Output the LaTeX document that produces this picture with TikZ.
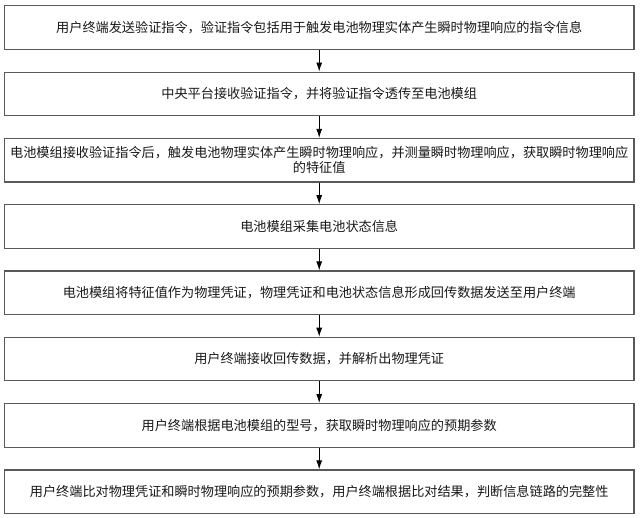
\documentclass[tikz,border=0pt]{standalone}
\usepackage{fontspec}
\setmainfont{Noto Sans CJK SC}
\usetikzlibrary{arrows.meta}
\begin{document}
\begin{tikzpicture}[x=1pt,y=-1pt,
  stepbox/.style={draw=black!65,line width=1.2pt,minimum width=629.5pt,minimum height=43.5pt,inner sep=0pt,
    align=center,text=black!90,font=\fontsize{13.15pt}{15pt}\selectfont},
  flow/.style={draw=black,line width=0.9pt,-{Latex[length=9pt,width=6pt]}}]
\useasboundingbox (0,0) rectangle (640,518);
\fill[white] (0,0) rectangle (640,518);
\node[stepbox] (s1) at (319.2,27.6) {用户终端发送验证指令，验证指令包括用于触发电池物理实体产生瞬时物理响应的指令信息};
\node[stepbox] (s2) at (319.2,93.9) {中央平台接收验证指令，并将验证指令透传至电池模组};
\node[stepbox] (s3) at (319.2,160.2) {电池模组接收验证指令后，触发电池物理实体产生瞬时物理响应，并测量瞬时物理响应，获取瞬时物理响应\\的特征值};
\node[stepbox] (s4) at (319.2,226.5) {电池模组采集电池状态信息};
\node[stepbox] (s5) at (319.2,292.8) {电池模组将特征值作为物理凭证，物理凭证和电池状态信息形成回传数据发送至用户终端};
\node[stepbox] (s6) at (319.2,359.1) {用户终端接收回传数据，并解析出物理凭证};
\node[stepbox] (s7) at (319.2,425.4) {用户终端根据电池模组的型号，获取瞬时物理响应的预期参数};
\node[stepbox] (s8) at (319.2,491.7) {用户终端比对物理凭证和瞬时物理响应的预期参数，用户终端根据比对结果，判断信息链路的完整性};
\draw[flow] (s1) -- (s2);
\draw[flow] (s2) -- (s3);
\draw[flow] (s3) -- (s4);
\draw[flow] (s4) -- (s5);
\draw[flow] (s5) -- (s6);
\draw[flow] (s6) -- (s7);
\draw[flow] (s7) -- (s8);
\end{tikzpicture}
\end{document}
